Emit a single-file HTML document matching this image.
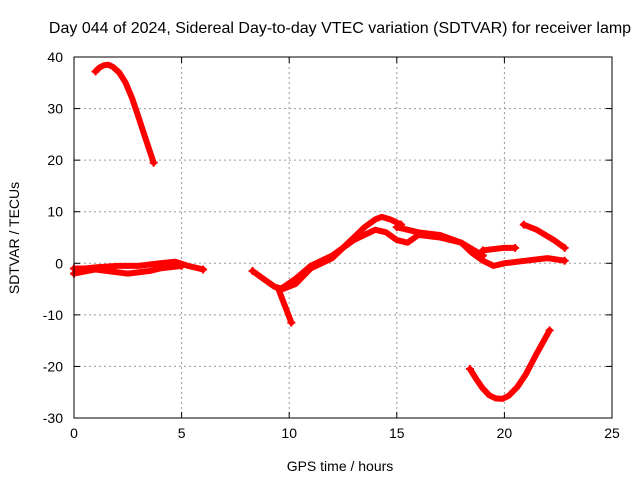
<!DOCTYPE html>
<html><head><meta charset="utf-8"><style>
body{margin:0;background:#fff}
svg text{font-family:"Liberation Sans",sans-serif;font-size:14px;fill:#000}
</style></head><body>
<svg id="chart" width="640" height="480" xmlns="http://www.w3.org/2000/svg">
<text x="340" y="33" text-anchor="middle" style="font-size:16px">Day 044 of 2024, Sidereal Day-to-day VTEC variation (SDTVAR) for receiver lamp</text>
<g id="grid"></g><g id="series"></g><g id="axes"></g>
<text x="340" y="471" text-anchor="middle">GPS time / hours</text>
<text transform="translate(19,238) rotate(-90)" text-anchor="middle">SDTVAR / TECUs</text>
</svg>
<script>
const xTicks=[0,5,10,15,20,25];
const yTicks=[40,30,20,10,0,-10,-20,-30];
const segTopH=[1.0,1.2,1.4,1.6,1.8,2.1,2.4,2.7,3.0,3.3,3.5,3.7];
const segTopV=[37.2,38,38.4,38.5,38.1,37,35,32,28.3,24.5,22,19.5];
const segFlatH=[0,0.5,1,2,3,4,4.7,5.3,6];
const segFlatV=[-1,-1,-0.8,-0.5,-0.5,0,0.3,-0.5,-1.2];
const segFlat2H=[0,1,2.5,3.5,4,5];
const segFlat2V=[-2,-1.2,-2,-1.5,-1,-0.5];
const segRiseH=[8.3,8.8,9.3,9.7,10.3,11,11.5,12,12.5,13,13.5,14,14.3,14.7,15.2];
const segRiseV=[-1.5,-3,-4.5,-5,-4,-1,0,1,3,5,7,8.5,9,8.5,7.5];
const segLowH=[9.6,10.3,11,12,13,14,14.5,15,15.5,16,17,18,18.5,19,19.5,20,21,22,22.8];
const segLowV=[-5,-3,-0.5,1.5,4.5,6.5,6,4.5,4,5.5,5,4,2,0.5,-0.5,0,0.5,1,0.5];
const segSpikeH=[9.5,10.1];
const segSpikeV=[-5,-11.5];
const segUpH=[15,16,17,18,19];
const segUpV=[7,6,5.5,4,1.5];
const segTailH=[20.9,21.5,22.3,22.8];
const segTailV=[7.5,6.5,4.5,3];
const segMidH=[19.0,20,20.5];
const segMidV=[2.5,3,3];
const segBotH=[18.4,18.7,19.0,19.3,19.6,19.9,20.2,20.6,21,21.5,22.1];
const segBotV=[-20.5,-22.5,-24.3,-25.6,-26.2,-26.3,-25.7,-24,-21.5,-17.5,-13];
const L=74,R=612,T=57,B=418,xmin=0,xmax=25,ymin=-30,ymax=40;
const X=h=>L+(h-xmin)/(xmax-xmin)*(R-L);
const Y=v=>B-(v-ymin)/(ymax-ymin)*(B-T);
const NS="http://www.w3.org/2000/svg";
function mk(tag,at,parent){const e=document.createElementNS(NS,tag);for(const k in at)e.setAttribute(k,at[k]);parent.appendChild(e);return e;}
const grid=document.getElementById('grid'),axes=document.getElementById('axes'),ser=document.getElementById('series');
xTicks.forEach(t=>{
 if(t>xmin&&t<xmax){const g=mk('line',{x1:X(t),x2:X(t),y1:T,y2:B,stroke:'#999','stroke-dasharray':'2,3'},grid);
 }
 mk('line',{x1:X(t),x2:X(t),y1:B,y2:B-6,stroke:'#000'},axes);
 mk('line',{x1:X(t),x2:X(t),y1:T,y2:T+6,stroke:'#000'},axes);
 const tx=mk('text',{x:X(t),y:B+20,'text-anchor':'middle'},axes);tx.textContent=t;
 
});
yTicks.forEach(t=>{
 if(t>ymin&&t<ymax){const g=mk('line',{x1:L,x2:R,y1:Y(t),y2:Y(t),stroke:'#999','stroke-dasharray':'2,3'},grid);
 }
 mk('line',{x1:L,x2:L+6,y1:Y(t),y2:Y(t),stroke:'#000'},axes);
 mk('line',{x1:R,x2:R-6,y1:Y(t),y2:Y(t),stroke:'#000'},axes);
 const tx=mk('text',{x:L-11,y:Y(t)+5,'text-anchor':'end'},axes);tx.textContent=t;
 
});
const frame=mk('rect',{x:L,y:T,width:R-L,height:B-T,fill:'none',stroke:'#000'},axes);

const segs=[[segTopH,segTopV],[segFlatH,segFlatV],[segFlat2H,segFlat2V],[segRiseH,segRiseV],[segLowH,segLowV],[segSpikeH,segSpikeV],[segUpH,segUpV],[segTailH,segTailV],[segMidH,segMidV],[segBotH,segBotV]];
segs.forEach(([hs,vs])=>{
 const pts=hs.map((h,i)=>X(h)+','+Y(vs[i])).join(' ');
 const p=mk('polyline',{points:pts,fill:'none',stroke:'#f00','stroke-width':6,'stroke-linejoin':'round','stroke-linecap':'round'},ser);
 
 
 [0,hs.length-1].forEach(i=>{const x=X(hs[i]),y=Y(vs[i]);
  mk('path',{d:`M${x-4},${y}h8M${x},${y-4}v8`,stroke:'#f00','stroke-width':2},ser);});
});
</script>
</body></html>
